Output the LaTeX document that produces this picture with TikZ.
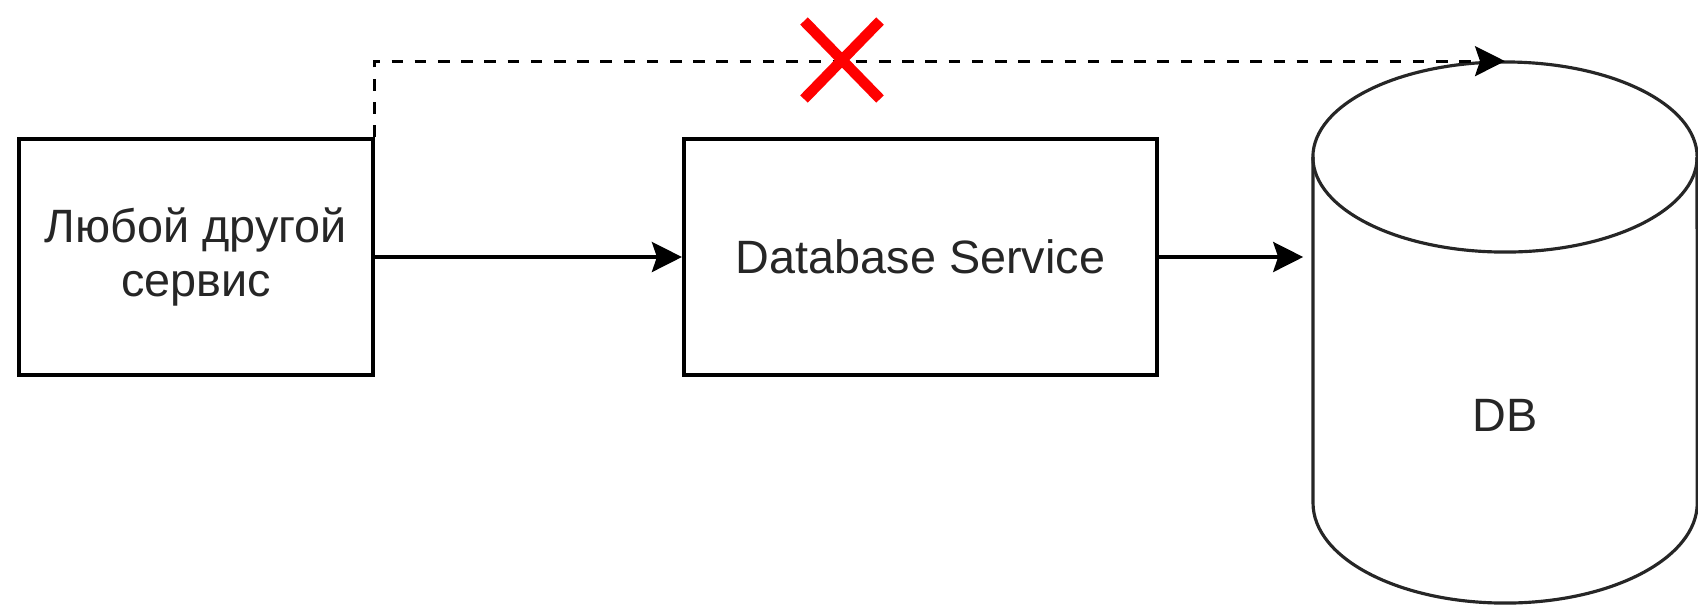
\documentclass[tikz,border=0pt]{standalone}
\usepackage{fontspec}
\setmainfont{Liberation Sans}
\usetikzlibrary{arrows.meta,positioning,calc}

\tikzset{
    svcbox/.style={draw, line width=1.1pt, align=center, minimum height=2.36cm,
        font=\fontsize{13.3}{15.6}\selectfont, text=black!85},
    link/.style={line width=1pt, -{Stealth[length=0.3cm, width=0.3cm, inset=0.05cm]}},
    nolink/.style={line width=0.8pt, dash pattern=on 3.3pt off 3.3pt,
        -{Stealth[length=0.3cm, width=0.3cm, inset=0.05cm]}},
    cylline/.style={line width=0.9pt, black!85},
    crossmark/.style={line width=3pt, color=red}
}

\begin{document}
\begin{tikzpicture}[x=0.01cm, y=-0.01cm]
    \useasboundingbox (0,0) rectangle (1698,605);

    % the two services
    \node[svcbox, minimum width=3.53cm] (other) at (196,257) {Любой другой\\сервис};
    \node[svcbox, minimum width=4.73cm] (dbsvc) at (920.5,257) {Database Service};

    % the database cylinder
    \node[minimum width=3.84cm, minimum height=5.41cm, inner sep=0pt] (db) at (1505,332.5) {};
    \draw[cylline] (1313,157) -- (1313,503)
        arc[start angle=180, end angle=360, x radius=1.92cm, y radius=1cm] -- (1697,157);
    \draw[cylline] (1505,157) ellipse[x radius=1.92cm, y radius=0.95cm];
    \node[font=\fontsize{13.3}{15.6}\selectfont, text=black!85] (dblabel) at (1505,415) {DB};

    % draw the connectors
    \draw[link] (other.east) -- (dbsvc.west);
    \draw[link, shorten >=0.09cm] (dbsvc.east) -- (dbsvc.east -| db.west);
    \draw[nolink] (other.north east) |- (db.north);

    % the forbidden path
    \coordinate (cross) at (842,60);
    \draw[crossmark] ([shift={(-38,-39)}]cross) -- ([shift={(38,39)}]cross);
    \draw[crossmark] ([shift={(-38,39)}]cross) -- ([shift={(38,-39)}]cross);
\end{tikzpicture}
\end{document}
